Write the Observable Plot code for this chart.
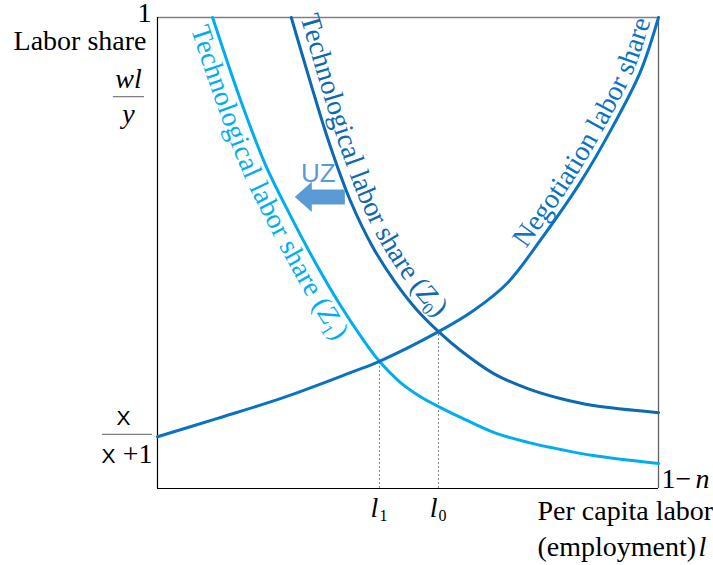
<!DOCTYPE html>
<html><head><meta charset="utf-8">
<script src="https://cdn.jsdelivr.net/npm/d3@7"></script>
<script src="https://cdn.jsdelivr.net/npm/@observablehq/plot@0.6"></script>
<style>
body{margin:0;background:#fff} svg{display:block}
#note{position:absolute;left:2px;top:200px;width:20px;font:2px monospace;color:rgba(0,0,0,0)}
</style>
</head><body><div id="chart"></div><div id="note">.</div>
<script>
const SERIF = "Liberation Serif";
const SANS = "Liberation Sans";

// Negotiation labor share curve (x: per capita labor, 0..1-n ; y: labor share 0..1)
const negX = [0, 0.120, 0.251, 0.385, 0.443, 0.561, 0.631, 0.699, 0.764, 0.844, 0.910, 0.964, 1.0];
const negY = [0.110, 0.149, 0.193, 0.246, 0.270, 0.333, 0.378, 0.437, 0.527, 0.650, 0.771, 0.885, 1.0];
// Technological labor share (Z0)
const z0X = [0.267, 0.307, 0.341, 0.385, 0.429, 0.475, 0.517, 0.561, 0.605, 0.671, 0.739, 0.804, 0.870, 1.0];
const z0Y = [1.0, 0.856, 0.739, 0.611, 0.514, 0.437, 0.380, 0.333, 0.293, 0.244, 0.212, 0.191, 0.176, 0.161];
// Technological labor share (Z1)
const z1X = [0.110, 0.166, 0.216, 0.265, 0.315, 0.365, 0.409, 0.443, 0.485, 0.525, 0.561, 0.605, 0.671, 0.739, 0.804, 0.870, 1.0];
const z1Y = [1.0, 0.824, 0.686, 0.580, 0.480, 0.389, 0.318, 0.270, 0.225, 0.195, 0.174, 0.151, 0.119, 0.098, 0.083, 0.070, 0.053];
// Equilibria l1, l0
const eqNames = ["1", "0"];
const eqX = [0.443, 0.561];
const eqY = [0.270, 0.333];
// Fraction bars (annotation, data units)
const barX1 = [-0.088, -0.110];
const barX2 = [-0.026, -0.010];
const barY = [0.832, 0.115];
// UZ shift arrow (data units)
const arrowX = [0.275, 0.309, 0.309, 0.375];
const arrowLo = [0.618, 0.586, 0.602, 0.602];
const arrowHi = [0.618, 0.650, 0.634, 0.634];

const neg = negX.map((x, i) => ({x, y: negY[i]}));
const z0 = z0X.map((x, i) => ({x, y: z0Y[i]}));
const z1 = z1X.map((x, i) => ({x, y: z1Y[i]}));
const eq = eqNames.map((n, i) => ({n, x: eqX[i], y: eqY[i]}));
const bars = barY.map((y, i) => ({y, x1: barX1[i], x2: barX2[i]}));
const arrow = arrowX.map((x, i) => ({x, lo: arrowLo[i], hi: arrowHi[i]}));

const C_NEG = "#0A72C2", C_Z0 = "#0C69B2", C_Z1 = "#00AEEF", C_UZ = "#5B9BD5";
const txt = (s, o) => Plot.text([s], {text: d => d, fontFamily: SERIF, fontSize: 28, fill: "#000", lineAnchor: "middle", ...o});

const plot = Plot.plot({
  width: 713, height: 565,
  marginLeft: 157, marginRight: 55, marginTop: 17, marginBottom: 77,
  x: {domain: [0, 1], axis: null},
  y: {domain: [0, 1], axis: null},
  marks: [
    Plot.ruleX(eq, {x: "x", y1: 0, y2: "y", stroke: "#8a8a8a", strokeWidth: 1, strokeDasharray: "2,2"}),
    Plot.ruleY([1], {stroke: "#808080", strokeWidth: 1.6}),
    Plot.ruleX([1], {stroke: "#606060", strokeWidth: 1.3}),
    Plot.ruleX([0], {stroke: "#000", strokeWidth: 1.2}),
    Plot.ruleY([0], {stroke: "#000", strokeWidth: 1.2}),
    Plot.ruleY(bars, {y: "y", x1: "x1", x2: "x2", stroke: "#808080", strokeWidth: 1.3}),
    Plot.line(z1, {x: "x", y: "y", stroke: C_Z1, strokeWidth: 3, curve: "catmull-rom"}),
    Plot.line(z0, {x: "x", y: "y", stroke: C_Z0, strokeWidth: 3, curve: "catmull-rom"}),
    Plot.line(neg, {x: "x", y: "y", stroke: C_NEG, strokeWidth: 3, curve: "catmull-rom"}),
    Plot.areaY(arrow, {x: "x", y1: "lo", y2: "hi", fill: C_UZ, curve: "linear"}),
    Plot.text(["UZ"], {x: 0.321, y: 0.618, text: d => d, dy: -24, fontFamily: SANS, fontSize: 26, fill: C_UZ}),
    // equilibrium labels
    Plot.text(eq, {x: "x", y: 0, text: () => "l", dx: -5, dy: 20, fontFamily: SERIF, fontSize: 28, fontStyle: "italic"}),
    Plot.text(eq, {x: "x", y: 0, text: "n", dx: 4, dy: 27, fontFamily: SERIF, fontSize: 16}),
    // y axis labels
    txt("1", {frameAnchor: "top-left", textAnchor: "end", dx: -6, dy: -4}),
    txt("Labor share", {frameAnchor: "top-left", textAnchor: "end", dx: -11, dy: 24}),
    txt("wl", {frameAnchor: "top-left", textAnchor: "middle", dx: -29, dy: 62, fontStyle: "italic"}),
    txt("y", {frameAnchor: "top-left", textAnchor: "middle", dx: -29, dy: 97, fontStyle: "italic"}),
    txt("Χ", {frameAnchor: "bottom-left", textAnchor: "middle", dx: -34, dy: -70, fontFamily: SANS, fontSize: 21}),
    txt("Χ", {frameAnchor: "bottom-left", textAnchor: "middle", dx: -49, dy: -32, fontFamily: SANS, fontSize: 21}),
    txt("+1", {frameAnchor: "bottom-left", textAnchor: "end", dx: -5, dy: -34}),
    // x axis labels
    txt("1−", {frameAnchor: "bottom-right", textAnchor: "start", dx: 3, dy: -9}),
    txt("n", {frameAnchor: "bottom-right", textAnchor: "start", dx: 37, dy: -9, fontStyle: "italic"}),
    txt("Per capita labor", {frameAnchor: "bottom-right", textAnchor: "start", dx: -121, dy: 23}),
    txt("(employment)", {frameAnchor: "bottom-right", textAnchor: "start", dx: -121, dy: 59}),
    txt("l", {frameAnchor: "bottom-right", textAnchor: "start", dx: 40, dy: 59, fontStyle: "italic"})
  ]
});
document.getElementById("chart").append(plot);

// Curved labels that follow the curves, positioned with Plot's own scales
const sx = plot.scale("x"), sy = plot.scale("y");
const svg = d3.select(plot);
const gen = d3.line().x(d => sx.apply(d.x)).y(d => sy.apply(d.y)).curve(d3.curveCatmullRom);
function curveLabel(id, pts, color, main, sub, opts) {
  const path = svg.append("path").attr("id", id).attr("d", gen(pts)).attr("fill", "none").attr("stroke", "none");
  const len = path.node().getTotalLength();
  const t = svg.append("text").attr("font-family", SERIF).attr("font-size", 28).attr("fill", color);
  const tp = t.append("textPath").attr("href", "#" + id)
    .attr("startOffset", opts.end ? len - opts.offset : opts.offset)
    .attr("text-anchor", opts.end ? "end" : "start");
  tp.append("tspan").attr("dy", opts.dy).text(main);
  if (sub != null) {
    tp.append("tspan").attr("font-style", "italic").text("Z");
    tp.append("tspan").attr("font-size", 17).attr("dy", 6).text(sub);
    tp.append("tspan").attr("dy", -6).text(")");
  }
}
curveLabel("pZ1", z1, C_Z1, "Technological labor share (", "1", {offset: 5, dy: 24});
curveLabel("pZ0", z0, C_Z0, "Technological labor share (", "0", {offset: 3, dy: -9});
curveLabel("pNeg", neg, C_NEG, "Negotiation labor share", null, {end: true, offset: 6, dy: -6});
</script>
</body></html>
